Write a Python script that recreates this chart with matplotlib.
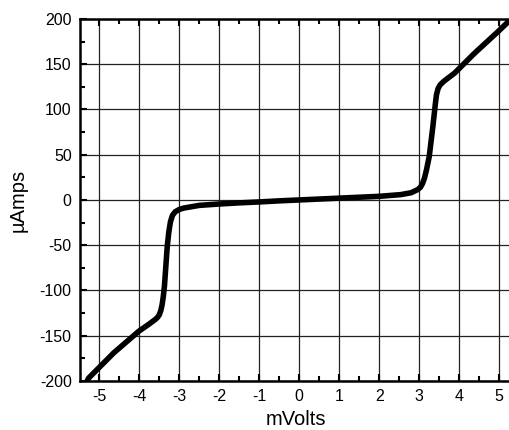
import matplotlib
matplotlib.use("Agg")
import matplotlib.pyplot as plt
from matplotlib.ticker import MultipleLocator

plt.rcParams['font.family'] = ['Liberation Sans', 'DejaVu Sans']

# I-V curve (mV, uA)
volts = [-5.30, -5.27, -4.64, -4.01, -3.75, -3.60, -3.55, -3.50, -3.46, -3.43, -3.40,
         -3.37, -3.30, -3.26, -3.22, -3.17, -3.10, -3.00, -2.89, -2.50, -2.01, -1.50,
         -1.00, -0.50, 0.00, 0.50, 1.00, 1.50, 2.00, 2.54, 2.80, 2.96, 3.03, 3.08,
         3.13, 3.18, 3.25, 3.34, 3.40, 3.43, 3.47, 3.52, 3.60, 3.70, 3.88, 4.38,
         4.97, 5.30]
amps = [-200, -197, -169, -145, -137, -132, -130, -127, -122, -116, -107,
        -95, -51, -35, -24, -17, -13, -10.5, -9, -6, -4.5, -3.2,
        -2.2, -1, 0, 1, 2, 3, 4, 5.9, 8, 11.4, 14, 18,
        24, 33, 48, 81, 105, 116, 123, 127, 130.5, 134, 140, 162,
        186, 200]

x_ticks = [-5, -4, -3, -2, -1, 0, 1, 2, 3, 4, 5]
y_ticks = [-200, -150, -100, -50, 0, 50, 100, 150, 200]

fig = plt.figure(figsize=(5.1, 4.3), dpi=100)
ax = fig.add_axes([0.157, 0.114, 0.843 + 0.004, 0.842])

ax.plot(volts, amps, color='black', lw=4.0, solid_capstyle='round',
        solid_joinstyle='round', zorder=3)

ax.set_xlim(-5.48, 5.32)
ax.set_ylim(-200, 200)
ax.set_xticks(x_ticks)
ax.set_yticks(y_ticks)
ax.set_xticklabels([str(v) for v in x_ticks])
ax.set_yticklabels([str(v) for v in y_ticks])
ax.xaxis.set_minor_locator(MultipleLocator(0.5))
ax.yaxis.set_minor_locator(MultipleLocator(25))

ax.grid(True, which='major', color='#222222', lw=0.9, zorder=1)
ax.tick_params(which='both', direction='in', top=True, right=False,
               width=1.5, labelsize=11.5, pad=6, colors='black')
ax.tick_params(which='major', length=5)
ax.tick_params(which='minor', length=3.5)

for s in ['left', 'top', 'bottom', 'right']:
    ax.spines[s].set_linewidth(1.8)

ax.set_xlabel('mVolts', fontsize=14.5, labelpad=4)
ax.set_ylabel('µAmps', fontsize=14.5, labelpad=9)

fig.savefig('out.png', dpi=100)
